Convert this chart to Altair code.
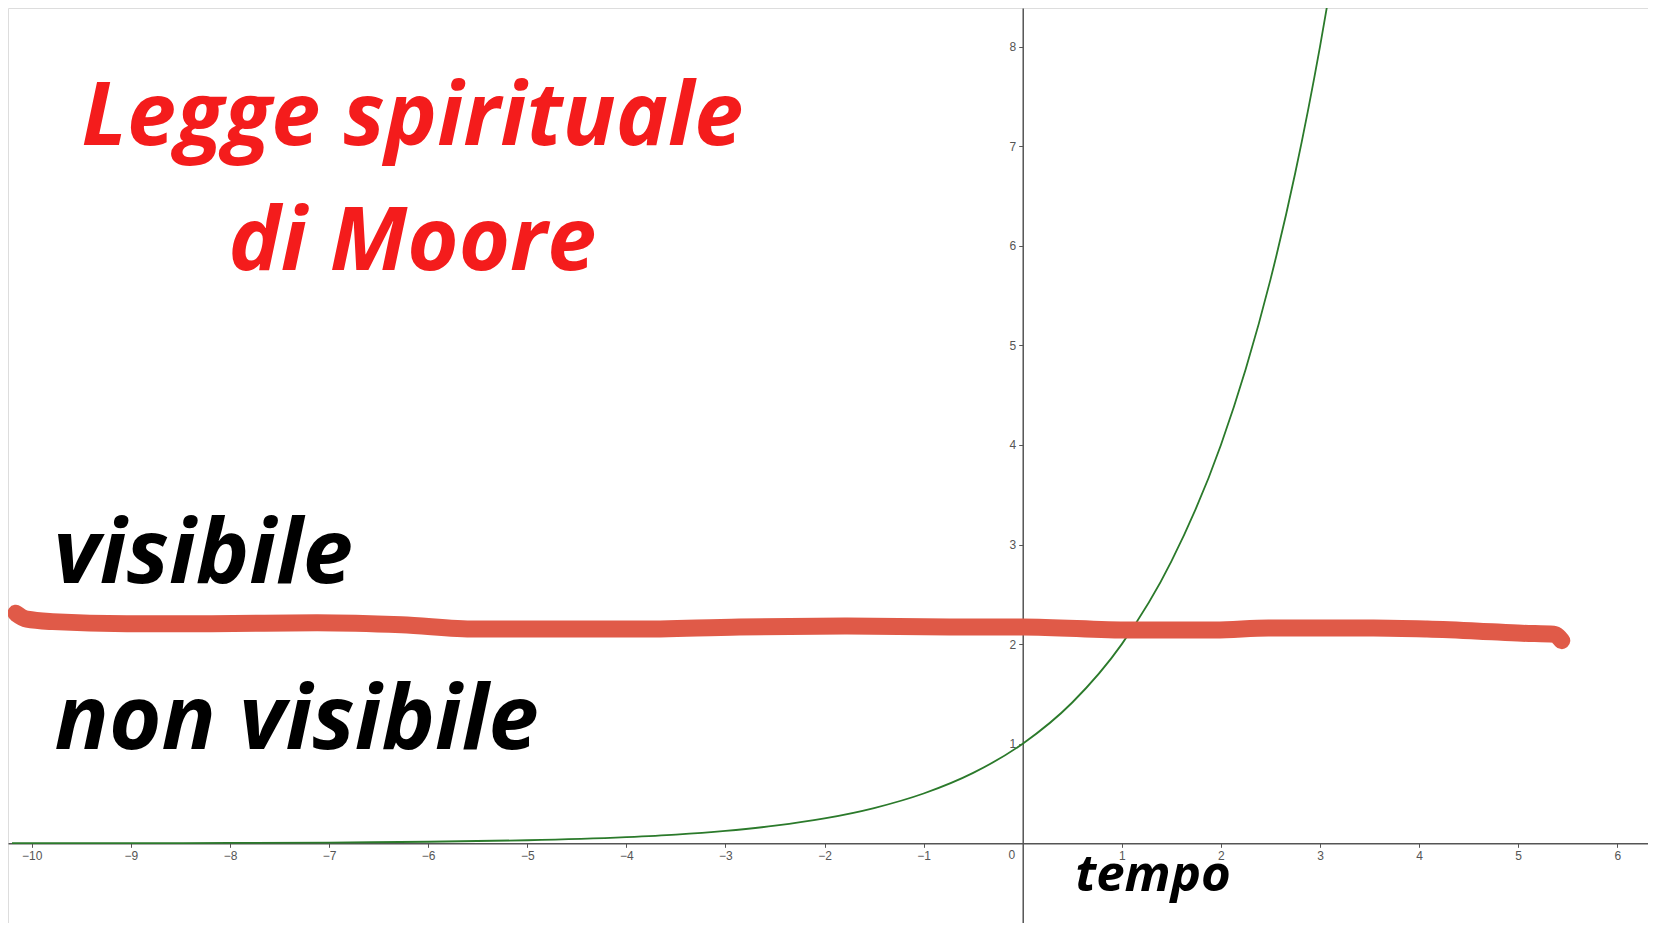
import altair as alt
import pandas as pd

# ---- data ----
curve_x = [-10.2, -10, -9, -8, -7, -6, -5, -4, -3.5, -3, -2.5, -2, -1.5, -1, -0.5,
           0, 0.5, 1, 1.5, 2, 2.25, 2.5, 2.75, 3, 3.1]
curve_y = [0.001, 0.001, 0.002, 0.004, 0.008, 0.016, 0.031, 0.063, 0.088, 0.125, 0.177,
           0.25, 0.354, 0.5, 0.707, 1.0, 1.414, 2.0, 2.83, 4.0, 4.76, 5.66, 6.73, 8.0, 8.57]

stroke_x = [-10.16, -10.05, -9.79, -9.04, -8.19, -7.12, -6.27, -5.52, -4.46, -3.92, -2.86,
            -1.79, -0.72, 0.0, 1.09, 1.94, 2.48, 3.01, 3.54, 4.08, 4.61, 5.04, 5.36, 5.44]
stroke_y = [2.31, 2.25, 2.226, 2.205, 2.205, 2.215, 2.194, 2.151, 2.151, 2.151, 2.173,
            2.183, 2.173, 2.173, 2.141, 2.141, 2.162, 2.162, 2.162, 2.151, 2.130, 2.109, 2.099, 2.035]

x_ticks = [-10, -9, -8, -7, -6, -5, -4, -3, -2, -1, 1, 2, 3, 4, 5, 6]
y_ticks = [1, 2, 3, 4, 5, 6, 7, 8]
origin_label = ["0"]

labels_text = ["Legge spirituale", "di Moore", "visibile", "non visibile", "tempo"]
labels_x = [-6.16, -6.16, -9.78, -9.77, 0.53]
labels_y = [7.01, 5.76, 2.61, 0.95, -0.48]
labels_kind = ["title", "title", "big", "big", "small"]

# ---- layout ----
W, H = 1640, 915
XMIN, XMAX = -10.24, 6.31
YMIN, YMAX = -0.80, 8.387
x_off = -W * (0 - XMIN) / (XMAX - XMIN)
y_off = -H * (0 - YMIN) / (YMAX - YMIN)

xs = alt.Scale(domain=[XMIN, XMAX], nice=False, zero=False)
ys = alt.Scale(domain=[YMIN, YMAX], nice=False, zero=False)

curve_df = pd.DataFrame({"x": curve_x, "y": curve_y})
stroke_df = pd.DataFrame({"x": stroke_x, "y": stroke_y})
lab_df = pd.DataFrame({"text": labels_text, "x": labels_x, "y": labels_y, "kind": labels_kind})
origin_df = pd.DataFrame({"text": origin_label, "x": [0], "y": [0]})

x_axis = alt.Axis(values=x_ticks, format="d", title=None, grid=False, orient="bottom", offset=y_off,
                  domainColor="#555555", domainWidth=1.5, tickColor="#555555", tickSize=4,
                  labelColor="#555555", labelFont="Liberation Sans", labelFontSize=12,
                  labelPadding=3)
y_axis = alt.Axis(values=y_ticks, format="d", title=None, grid=False, orient="left", offset=x_off,
                  domainColor="#555555", domainWidth=1.5, tickColor="#555555", tickSize=4,
                  labelColor="#555555", labelFont="Liberation Sans", labelFontSize=12,
                  labelPadding=3)

curve = alt.Chart(curve_df).mark_line(color="#2b7a2b", strokeWidth=1.8, clip=True,
                                      interpolate="monotone").encode(
    x=alt.X("x:Q", scale=xs, axis=x_axis),
    y=alt.Y("y:Q", scale=ys, axis=y_axis),
)

origin = alt.Chart(origin_df).mark_text(
    font="Liberation Sans", fontSize=12, color="#555555", align="center",
    baseline="top", dx=-11, dy=7).encode(
    x=alt.X("x:Q", scale=xs), y=alt.Y("y:Q", scale=ys), text="text:N")

stroke = alt.Chart(stroke_df).mark_line(color="#e05a48", strokeWidth=17, strokeCap="round",
                                        strokeJoin="round", interpolate="monotone").encode(
    x=alt.X("x:Q", scale=xs),
    y=alt.Y("y:Q", scale=ys),
)

title = alt.Chart(lab_df[lab_df.kind == "title"]).mark_text(
    font="Open Sans", fontSize=88, fontWeight="bold", fontStyle="italic",
    color="#f41c1c", align="center", baseline="alphabetic").encode(
    x=alt.X("x:Q", scale=xs), y=alt.Y("y:Q", scale=ys), text="text:N")

big = alt.Chart(lab_df[lab_df.kind == "big"]).mark_text(
    font="Open Sans", fontSize=90, fontWeight="bold", fontStyle="italic",
    color="#000000", align="left", baseline="alphabetic").encode(
    x=alt.X("x:Q", scale=xs), y=alt.Y("y:Q", scale=ys), text="text:N")

small = alt.Chart(lab_df[lab_df.kind == "small"]).mark_text(
    font="Open Sans", fontSize=51, fontWeight="bold", fontStyle="italic",
    color="#000000", align="left", baseline="alphabetic").encode(
    x=alt.X("x:Q", scale=xs), y=alt.Y("y:Q", scale=ys), text="text:N")

chart = alt.layer(curve, origin, stroke, title, big, small).properties(
    width=W, height=H, padding=0, autosize=alt.AutoSizeParams(type="none")
).configure_view(strokeWidth=0, stroke="transparent").configure(background="white")

chart.save("out.html", embed_options={"renderer": "svg", "actions": False})
